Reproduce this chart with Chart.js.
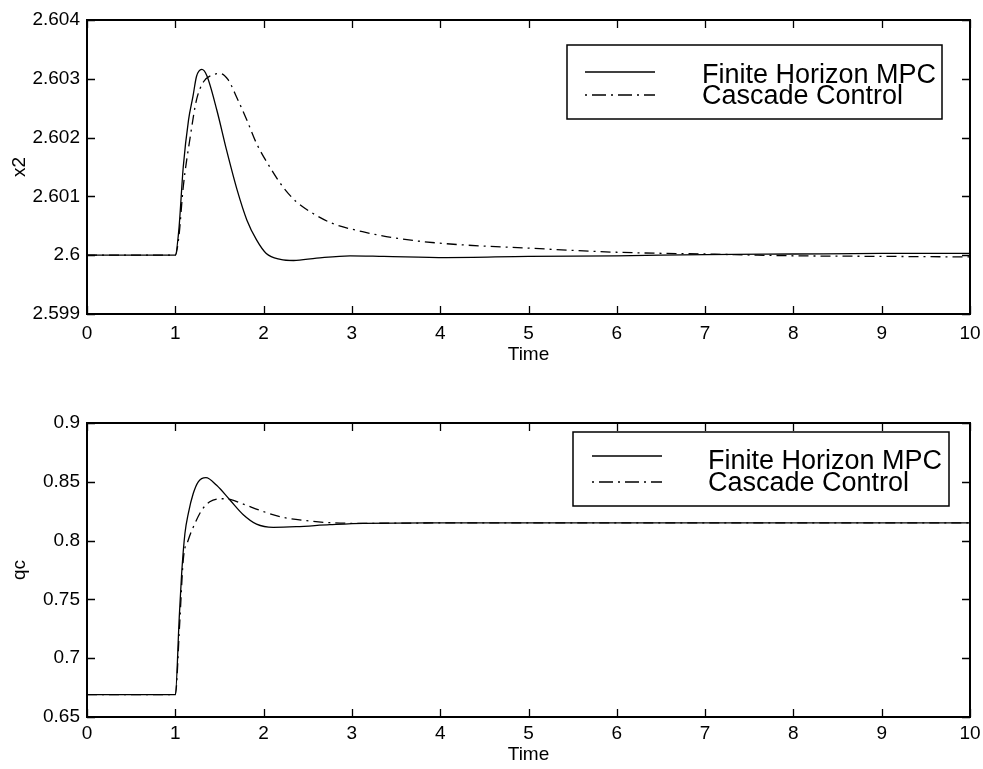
<!DOCTYPE html>
<html>
<head>
<meta charset="utf-8">
<script src="https://cdn.jsdelivr.net/npm/chart.js@4.4.1/dist/chart.umd.min.js"></script>
<style>
  html, body { margin: 0; padding: 0; background: #ffffff; }
  #wrap { position: relative; width: 983px; height: 769px; background: #ffffff; }
  canvas { position: absolute; left: 0; }
  #c1 { top: 0; }
  #c2 { top: 384px; }
</style>
</head>
<body>
<div id="wrap">
  <canvas id="c1" width="983" height="384"></canvas>
  <canvas id="c2" width="983" height="385"></canvas>
</div>
<script>
// ---------- DATA ----------
const seriesNames = ['Finite Horizon MPC', 'Cascade Control'];
const xTicks = [0, 1, 2, 3, 4, 5, 6, 7, 8, 9, 10];

// top panel: x2
const x2TicksY = [2.599, 2.6, 2.601, 2.602, 2.603, 2.604];
const x2MpcT = [0, 1.0, 1.04, 1.09, 1.15, 1.20, 1.24, 1.30, 1.355, 1.47, 1.58, 1.70, 1.81, 1.92, 2.03, 2.19, 2.34, 2.60, 2.98, 3.36, 4.07, 5, 6, 7, 8, 9, 10];
const x2MpcV = [2.6, 2.6, 2.60043, 2.60150, 2.60230, 2.60270, 2.60304, 2.60316, 2.60306, 2.60247, 2.60179, 2.60111, 2.60060, 2.60026, 2.60003, 2.59993, 2.59991, 2.59995, 2.59999, 2.59998, 2.59996, 2.59998, 2.59999, 2.60001, 2.60002, 2.60003, 2.60003];
const x2CasT = [0, 1.0, 1.04, 1.09, 1.17, 1.24, 1.32, 1.41, 1.51, 1.60, 1.70, 1.81, 1.92, 2.07, 2.22, 2.37, 2.56, 2.78, 3.12, 3.50, 4.03, 5, 6, 7, 8, 9, 10];
const x2CasV = [2.6, 2.6, 2.60031, 2.60116, 2.60202, 2.60264, 2.60295, 2.60306, 2.60309, 2.60298, 2.60267, 2.60230, 2.60190, 2.60150, 2.60116, 2.60091, 2.60071, 2.60054, 2.60040, 2.60029, 2.60020, 2.60012, 2.60005, 2.60002, 2.59999, 2.59998, 2.59997];

// bottom panel: qc
const qcTicksY = [0.65, 0.7, 0.75, 0.8, 0.85, 0.9];
const qcMpcT = [0, 1.0, 1.045, 1.072, 1.109, 1.147, 1.203, 1.26, 1.347, 1.468, 1.619, 1.77, 1.92, 2.11, 2.37, 2.75, 3.13, 4, 6, 8, 10];
const qcMpcV = [0.669, 0.669, 0.735, 0.772, 0.806, 0.823, 0.840, 0.850, 0.8535, 0.847, 0.8345, 0.822, 0.814, 0.8113, 0.8118, 0.8135, 0.8147, 0.815, 0.815, 0.815, 0.815];
const qcCasT = [0, 1.0, 1.05, 1.09, 1.147, 1.223, 1.30, 1.39, 1.51, 1.62, 1.77, 2.0, 2.22, 2.49, 2.75, 3.1, 4, 6, 8, 10];
const qcCasV = [0.669, 0.669, 0.730, 0.7835, 0.8005, 0.8147, 0.826, 0.833, 0.8356, 0.835, 0.831, 0.8246, 0.8198, 0.8169, 0.8152, 0.8147, 0.815, 0.815, 0.815, 0.815];

// ---------- HELPERS ----------
function pts(ts, vs) { return ts.map((t, i) => ({ x: t, y: vs[i] })); }
function fmt(v) { return String(Number(v.toFixed(4))); }

const FONT = '"Liberation Sans", Arial, Helvetica, sans-serif';

const boxTicksPlugin = {
  id: 'boxTicks',
  afterDatasetsDraw(chart) {
    const { ctx, chartArea: a, scales } = chart;
    ctx.save();
    ctx.strokeStyle = '#000';
    ctx.lineWidth = 1.3;
    const L = 8;
    ctx.beginPath();
    scales.x.ticks.forEach(t => {
      const px = Math.round(scales.x.getPixelForValue(t.value)) + 0.5;
      ctx.moveTo(px, a.bottom); ctx.lineTo(px, a.bottom - L);
      ctx.moveTo(px, a.top); ctx.lineTo(px, a.top + L);
    });
    scales.y.ticks.forEach(t => {
      const py = Math.round(scales.y.getPixelForValue(t.value)) + 0.5;
      ctx.moveTo(a.left, py); ctx.lineTo(a.left + L, py);
      ctx.moveTo(a.right, py); ctx.lineTo(a.right - L, py);
    });
    ctx.stroke();
    ctx.lineWidth = 2;
    ctx.strokeRect(a.left, a.top, a.right - a.left, a.bottom - a.top);
    ctx.restore();
  }
};

const boxLegendPlugin = {
  id: 'boxLegend',
  afterDraw(chart, args, o) {
    const { ctx } = chart;
    ctx.save();
    ctx.fillStyle = '#fff';
    ctx.fillRect(o.box[0], o.box[1], o.box[2] - o.box[0], o.box[3] - o.box[1]);
    ctx.strokeStyle = '#000';
    ctx.lineWidth = 1.5;
    ctx.strokeRect(o.box[0], o.box[1], o.box[2] - o.box[0], o.box[3] - o.box[1]);
    chart.data.datasets.forEach((ds, i) => {
      ctx.beginPath();
      ctx.lineWidth = 1.3;
      ctx.setLineDash(ds.legendDash || []);
      ctx.moveTo(o.sample[0], o.lineY[i]);
      ctx.lineTo(o.sample[1], o.lineY[i]);
      ctx.stroke();
      ctx.setLineDash([]);
      ctx.fillStyle = '#000';
      ctx.font = o.fontSize + 'px ' + FONT;
      ctx.textBaseline = 'alphabetic';
      ctx.textAlign = 'left';
      ctx.fillText(ds.label, o.textX, o.baseY[i]);
    });
    ctx.restore();
  }
};

function makeChart(id, mpc, cas, yTicks, yTitle, cfg) {
  return new Chart(document.getElementById(id), {
    type: 'line',
    data: {
      datasets: [
        { label: seriesNames[0], data: mpc, borderColor: '#000', borderWidth: 1.3, pointRadius: 0,
          cubicInterpolationMode: 'monotone', legendDash: [] },
        { label: seriesNames[1], data: cas, borderColor: '#000', borderWidth: 1.3, pointRadius: 0,
          cubicInterpolationMode: 'monotone', borderDash: [10, 5, 2, 5], legendDash: [2, 5, 14, 5] }
      ]
    },
    options: {
      responsive: false,
      animation: false,
      devicePixelRatio: 1,
      layout: { padding: { left: 0, right: 13, top: cfg.top, bottom: cfg.bottom } },
      plugins: {
        legend: { display: false },
        tooltip: { enabled: false },
        boxLegend: cfg.legend
      },
      scales: {
        x: {
          type: 'linear', min: 0, max: 10,
          afterBuildTicks: s => { s.ticks = xTicks.map(v => ({ value: v })); },
          grid: { display: false, drawTicks: false },
          border: { display: false },
          ticks: { color: '#000', font: { family: FONT, size: 19 }, padding: cfg.xLabelPad, maxRotation: 0, callback: v => fmt(v) },
          title: { display: true, text: 'Time', color: '#000', font: { family: FONT, size: 19 }, padding: { top: 0, bottom: 0 } },
          afterFit: s => { s.height = cfg.xHeight; s.paddingLeft = 0; s.paddingRight = 0; }
        },
        y: {
          type: 'linear', min: yTicks[0], max: yTicks[yTicks.length - 1],
          afterBuildTicks: s => { s.ticks = yTicks.map(v => ({ value: v })); },
          grid: { display: false, drawTicks: false },
          border: { display: false },
          ticks: { color: '#000', font: { family: FONT, size: 19 }, padding: 7, callback: v => fmt(v) },
          title: { display: true, text: yTitle, color: '#000', font: { family: FONT, size: 19 }, padding: { top: 8, bottom: 0 } },
          afterFit: s => { s.width = 87; s.paddingTop = 0; s.paddingBottom = 0; }
        }
      }
    },
    plugins: [boxTicksPlugin, boxLegendPlugin]
  });
}

makeChart('c1', pts(x2MpcT, x2MpcV), pts(x2CasT, x2CasV), x2TicksY, 'x2', {
  top: 20, bottom: 17.6, xHeight: 52.4, xLabelPad: 8,
  legend: { box: [567, 45, 942, 119], sample: [585, 655], lineY: [72, 95], textX: 702, baseY: [83, 104], fontSize: 27 }
});

makeChart('c2', pts(qcMpcT, qcMpcV), pts(qcCasT, qcCasV), qcTicksY, 'qc', {
  top: 39, bottom: 2.6, xHeight: 49.4, xLabelPad: 5,
  legend: { box: [573, 48, 949, 122], sample: [592, 662], lineY: [72, 98], textX: 708, baseY: [85, 107], fontSize: 27 }
});
</script>
</body>
</html>
